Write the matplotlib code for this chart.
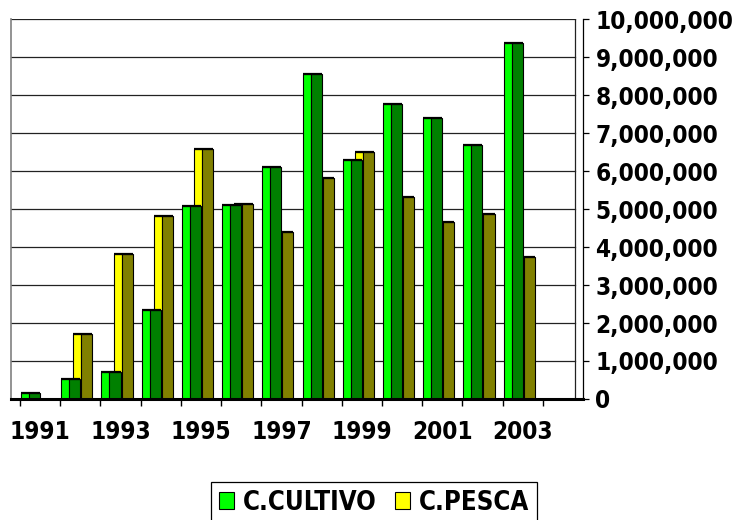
import matplotlib
matplotlib.use("Agg")
import matplotlib.pyplot as plt
from matplotlib.patches import Patch
from matplotlib.ticker import FuncFormatter
import numpy as np

years = [1991, 1992, 1993, 1994, 1995, 1996, 1997, 1998, 1999, 2000, 2001, 2002, 2003, 2004]
cultivo = [150000, 530000, 720000, 2350000, 5070000, 5100000, 6110000, 8560000,
           6300000, 7760000, 7390000, 6680000, 9380000, 0]
pesca = [0, 1720000, 3820000, 4820000, 6570000, 5140000, 4390000, 5820000,
         6490000, 5320000, 4670000, 4880000, 3740000, 0]
year_labels = ["1991", "1993", "1995", "1997", "1999", "2001", "2003"]
series_names = ["C.CULTIVO", "C.PESCA"]

plt.rcParams['font.family'] = ['DejaVu Sans']
plt.rcParams['font.weight'] = 'bold'
plt.rcParams['font.stretch'] = 'condensed'
FS = 17.5

fig = plt.figure(figsize=(7.4, 5.2), dpi=100)
ax = fig.add_axes([11/740, 1 - 399/520, 572/740, 380/520])

x = np.arange(len(years))
cv = np.array(cultivo)
pv = np.array(pesca)

ax.bar(x + 0.325, pv, width=0.2, align='edge', color='#FFFF00', edgecolor='black', linewidth=0.8, zorder=3)
ax.bar(x + 0.525, pv, width=0.275, align='edge', color='#808000', edgecolor='black', linewidth=0.8, zorder=3)
ax.bar(x + 0.025, cv, width=0.2, align='edge', color='#00FF00', edgecolor='black', linewidth=0.8, zorder=4)
ax.bar(x + 0.225, cv, width=0.275, align='edge', color='#008000', edgecolor='black', linewidth=0.8, zorder=4)
ax.hlines(pv[pv > 0], (x + 0.325)[pv > 0], (x + 0.8)[pv > 0], color='black', lw=1.6, zorder=3.5)
ax.hlines(cv[cv > 0], (x + 0.025)[cv > 0], (x + 0.5)[cv > 0], color='black', lw=1.6, zorder=4.5)

ax.set_xlim(-0.224, 14.0)
ax.set_ylim(0, 10000000)

yt = np.arange(0, 10000001, 1000000)
for v in yt[1:]:
    ax.plot([-0.224, 13.8], [v, v], color='#222222', lw=0.9, zorder=1)
ax.plot([13.8, 13.8], [0, 10000000], color='#222222', lw=0.9, zorder=1)

ax.spines['top'].set_visible(False)
ax.spines['left'].set_color('#808080')
ax.spines['left'].set_linewidth(1.2)
ax.spines['right'].set_color('black')
ax.spines['right'].set_linewidth(0.9)
ax.spines['bottom'].set_color('black')
ax.spines['bottom'].set_linewidth(2.2)
ax.spines['bottom'].set_zorder(5)

ax.yaxis.tick_right()
ax.set_yticks(yt)
ax.yaxis.set_major_formatter(FuncFormatter(lambda v, p: f"{int(v):,}"))
ax.tick_params(axis='y', which='major', length=4, width=0.9, pad=5, labelsize=FS)

ax.set_xticks(np.arange(0, 14))
ax.set_xticklabels([])
ax.tick_params(axis='x', which='major', length=5, width=1.0, direction='out')
ax.set_xticks(np.arange(0, 14, 2) + 0.5, minor=True)
ax.set_xticklabels(year_labels, minor=True)
ax.tick_params(axis='x', which='minor', length=0, pad=15, labelsize=FS)
for t in ax.get_xticklabels(minor=True) + ax.get_yticklabels():
    t.set_fontweight('bold')

handles = [Patch(facecolor='#00FF00', edgecolor='black', linewidth=0.8),
           Patch(facecolor='#FFFF00', edgecolor='black', linewidth=0.8)]
leg = fig.legend(handles, series_names, loc='upper center', bbox_to_anchor=(374/740, 1 - 482/520),
                 ncol=2, frameon=True, fancybox=False, edgecolor='black', framealpha=1,
                 handlelength=0.6, handleheight=0.6, handletextpad=0.35, columnspacing=0.7,
                 borderpad=0.3, borderaxespad=0, prop={'weight': 'bold', 'size': 18.5})
leg.get_frame().set_linewidth(0.9)

fig.savefig("out.png", dpi=100)
